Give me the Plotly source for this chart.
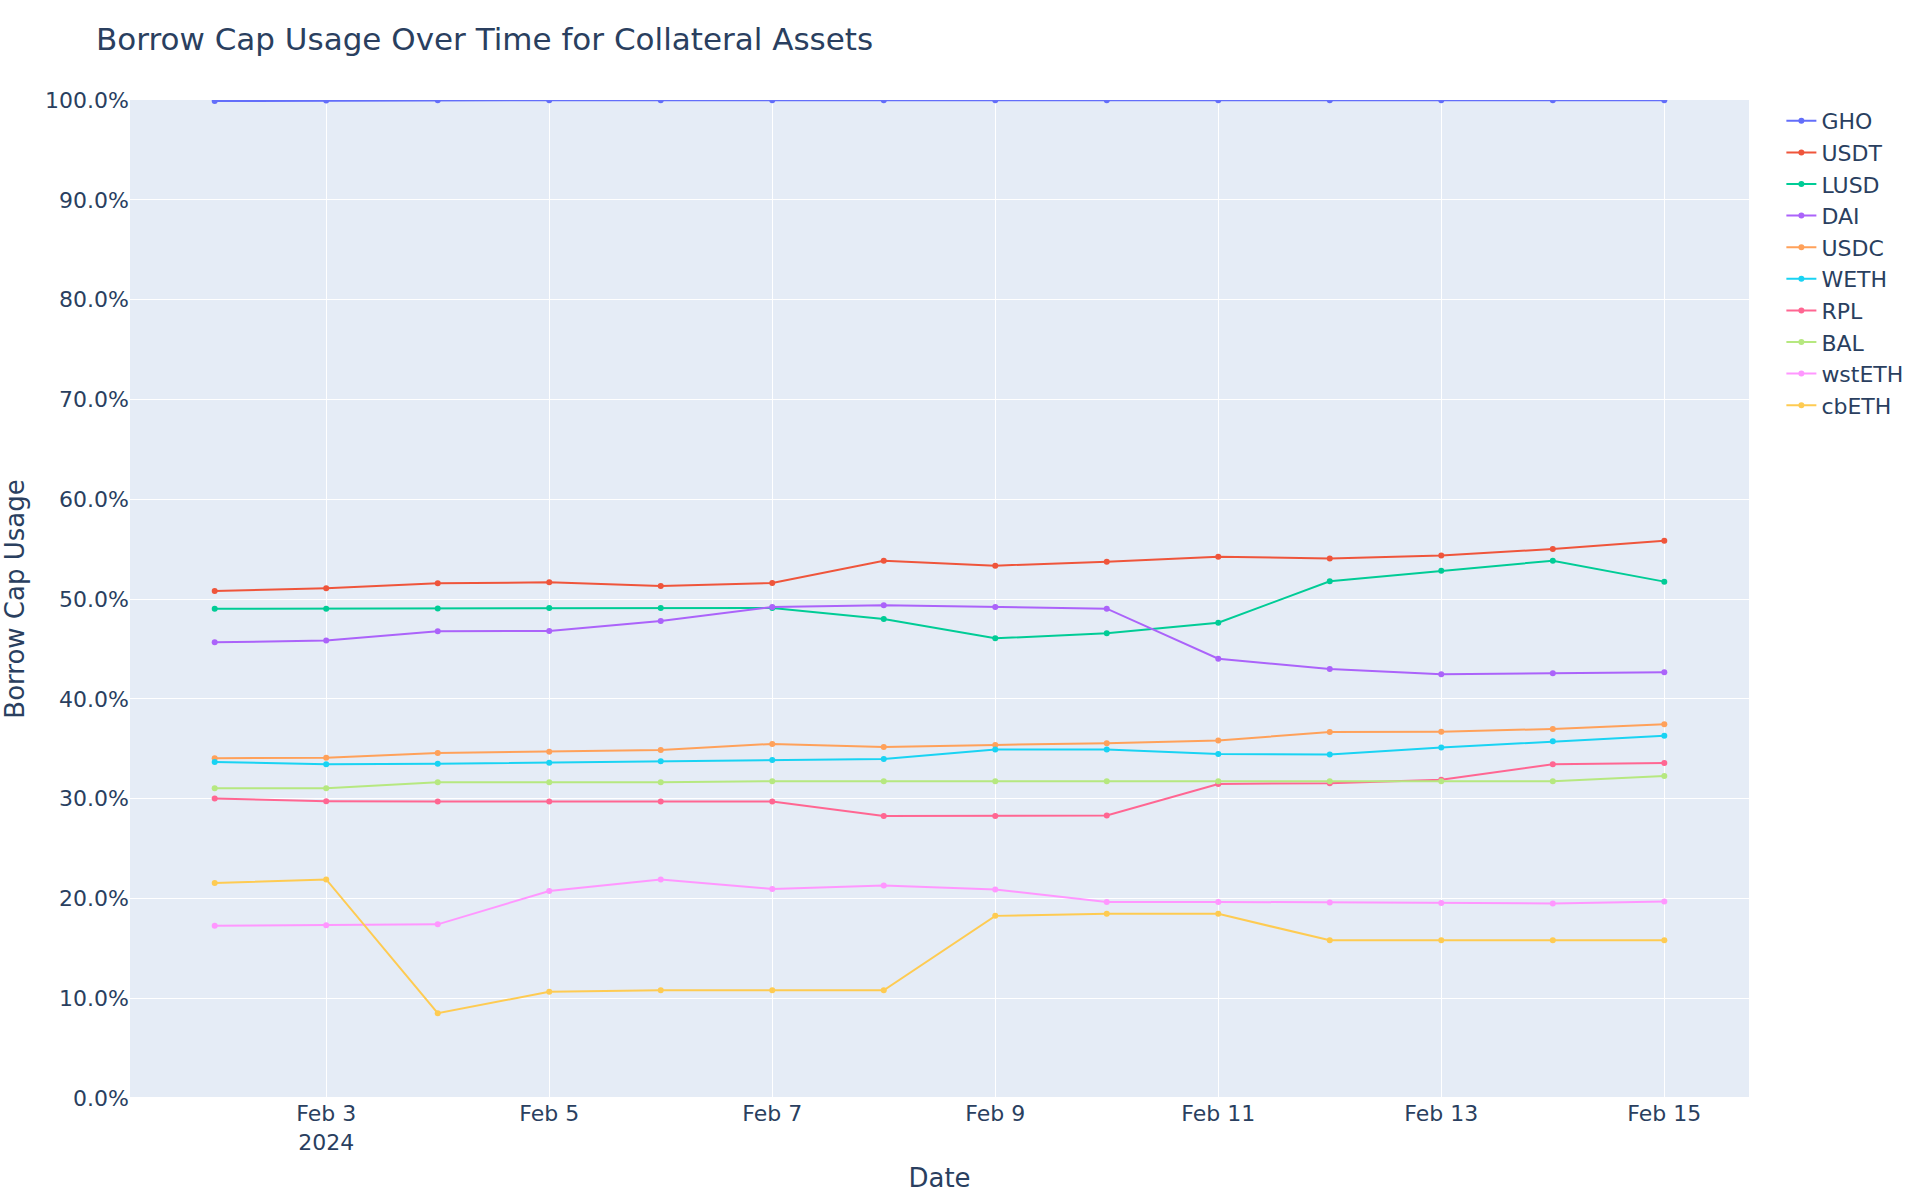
import pandas as pd
import plotly.graph_objects as go

dates = pd.date_range("2024-02-02", "2024-02-15", freq="D")

gho = [99.9, 99.95, 99.97, 99.98, 99.98, 99.98, 99.98, 99.98, 99.98, 99.98, 99.98, 99.98, 99.97, 99.98]
usdt = [50.8, 51.07, 51.57, 51.67, 51.3, 51.6, 53.84, 53.34, 53.74, 54.24, 54.07, 54.37, 55.0, 55.84]
lusd = [49.03, 49.03, 49.06, 49.1, 49.1, 49.1, 48.0, 46.06, 46.56, 47.63, 51.77, 52.84, 53.84, 51.74]
dai = [45.66, 45.83, 46.76, 46.8, 47.8, 49.2, 49.37, 49.2, 49.03, 44.02, 42.99, 42.45, 42.55, 42.65]
usdc = [34.04, 34.1, 34.57, 34.7, 34.87, 35.48, 35.18, 35.38, 35.54, 35.81, 36.68, 36.71, 36.98, 37.45]
weth = [33.67, 33.44, 33.5, 33.6, 33.74, 33.87, 33.97, 34.91, 34.91, 34.47, 34.41, 35.11, 35.74, 36.31]
rpl = [30.0, 29.73, 29.7, 29.7, 29.7, 29.7, 28.26, 28.26, 28.3, 31.47, 31.54, 31.9, 33.44, 33.57]
bal = [31.03, 31.03, 31.63, 31.63, 31.63, 31.75, 31.75, 31.75, 31.75, 31.73, 31.73, 31.73, 31.73, 32.27]
wsteth = [17.25, 17.3, 17.4, 20.75, 21.9, 20.95, 21.3, 20.9, 19.65, 19.65, 19.6, 19.55, 19.5, 19.7]
cbeth = [21.55, 21.9, 8.5, 10.65, 10.8, 10.8, 10.8, 18.25, 18.45, 18.45, 15.8, 15.8, 15.8, 15.8]

series = {
    "GHO": gho,
    "USDT": usdt,
    "LUSD": lusd,
    "DAI": dai,
    "USDC": usdc,
    "WETH": weth,
    "RPL": rpl,
    "BAL": bal,
    "wstETH": wsteth,
    "cbETH": cbeth,
}

fig = go.Figure()
for name, values in series.items():
    fig.add_trace(go.Scatter(x=dates, y=values, mode="lines+markers", name=name))

fig.update_layout(
    title="Borrow Cap Usage Over Time for Collateral Assets",
    xaxis_title="Date",
    yaxis_title="Borrow Cap Usage",
    font=dict(family="DejaVu Sans", size=22),
    width=1920,
    height=1200,
)
fig.update_yaxes(range=[0, 100], dtick=10, tickformat=".1f", ticksuffix="%")

# the browser's default body margin would shift the whole figure by 8px
fig.write_html(
    "out.html",
    config={"displayModeBar": False},
    post_script="document.body.style.margin = '0';",
)
